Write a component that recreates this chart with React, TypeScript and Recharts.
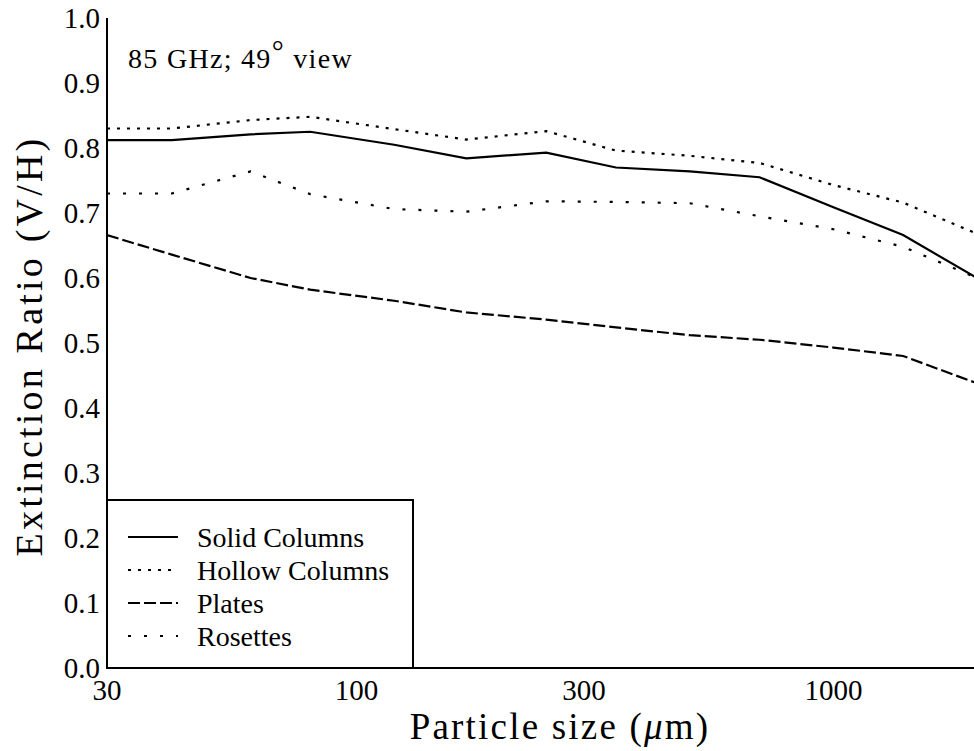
import React from 'react';
import { LineChart, Line, XAxis, YAxis, Legend } from 'recharts';

// particle sizes (µm)
const sizes = [30, 41, 60, 80, 120, 170, 250, 350, 500, 700, 1000, 1400, 2000];
const solidColumns = [0.812, 0.812, 0.821, 0.825, 0.805, 0.784, 0.793, 0.770, 0.764, 0.755, 0.709, 0.666, 0.600];
const hollowColumns = [0.830, 0.830, 0.843, 0.848, 0.829, 0.813, 0.826, 0.796, 0.788, 0.777, 0.743, 0.716, 0.668];
const plates = [0.666, 0.636, 0.600, 0.582, 0.565, 0.547, 0.536, 0.524, 0.512, 0.505, 0.493, 0.480, 0.438];
const rosettes = [0.730, 0.730, 0.764, 0.729, 0.706, 0.702, 0.718, 0.717, 0.715, 0.695, 0.675, 0.648, 0.600];

const xMajorTicks = [30, 100, 300, 1000];
const xMinorTicks = [30, 40, 50, 60, 70, 80, 90, 100, 200, 300, 400, 500, 600, 700, 800, 900, 1000, 2000];
const yTicks = [0, 0.1, 0.2, 0.3, 0.4, 0.5, 0.6, 0.7, 0.8, 0.9, 1.0];
const yMinorTicks = [0, 0.05, 0.1, 0.15, 0.2, 0.25, 0.3, 0.35, 0.4, 0.45, 0.5, 0.55, 0.6, 0.65, 0.7, 0.75, 0.8, 0.85, 0.9, 0.95, 1.0];

const seriesKeys = ['solid', 'hollow', 'plates', 'rosettes'];
const seriesNames = ['Solid Columns', 'Hollow Columns', 'Plates', 'Rosettes'];

const data = sizes.map((s, i) => ({
  size: s,
  solid: solidColumns[i],
  hollow: hollowColumns[i],
  plates: plates[i],
  rosettes: rosettes[i],
}));

const FONT = '"Liberation Serif", "DejaVu Serif", serif';
const INK = '#000';
const DASH: Record<string, string | undefined> = {
  solid: undefined,
  hollow: '3 7',
  plates: '12 4',
  rosettes: '3 13',
};
const textStyle = { fontFamily: FONT };

const renderLegend = () => (
  <svg width={309} height={171} style={{ display: 'block' }}>
    <rect x={1} y={1} width={306} height={168} fill="#fff" stroke={INK} strokeWidth={2} />
    {seriesKeys.map((key, i) => {
      const cy = 38 + i * 33;
      return (
        <g key={key}>
          <line x1={22} x2={72} y1={cy} y2={cy} stroke={INK} strokeWidth={2.2} strokeDasharray={DASH[key]} />
          <text x={91} y={cy} dy="0.36em" fontSize={28} style={textStyle} fill={INK}>
            {seriesNames[i]}
          </text>
        </g>
      );
    })}
  </svg>
);

// Y-axis title plus the in-plot annotation (positioned from the axis viewBox)
const YTitle = (props: any) => {
  const vb = props.viewBox || { x: 0, y: 18, width: 107, height: 650 };
  const cx = vb.x + 42;
  const cy = vb.y + vb.height / 2 + 3;
  const ax = vb.x + vb.width + 21;
  const ay = vb.y + 50;
  return (
    <g>
      <text
        x={cx}
        y={cy}
        transform={`rotate(-90, ${cx}, ${cy})`}
        textAnchor="middle"
        fontSize={38}
        letterSpacing={3.2}
        style={textStyle}
        fill={INK}
      >
        Extinction Ratio (V/H)
      </text>
      <text x={ax} y={ay} fontSize={28} letterSpacing={1.3} style={textStyle} fill={INK}>
        85 GHz; 49<tspan dy={-7} fontSize={30}>°</tspan>
        <tspan dy={7}> view</tspan>
      </text>
    </g>
  );
};

const XTitle = (props: any) => {
  const vb = props.viewBox || { x: 107, y: 668, width: 870, height: 83 };
  return (
    <text
      x={vb.x + 453}
      y={vb.y + 71}
      textAnchor="middle"
      fontSize={37}
      letterSpacing={2.2}
      style={textStyle}
      fill={INK}
    >
      Particle size (<tspan fontStyle="italic">μ</tspan>m)
    </text>
  );
};

const tickText = { fontSize: 29, fill: INK, fontFamily: FONT, style: textStyle };

export default function App() {
  return (
    <div style={{ position: 'absolute', left: 0, top: 0, width: 974, height: 751, overflow: 'hidden', background: '#fff', fontFamily: FONT }}>
      <LineChart width={990} height={751} data={data} margin={{ top: 18, right: 13, bottom: 0, left: 0 }} style={textStyle}>
        <XAxis
          dataKey="size"
          type="number"
          scale="log"
          domain={[30, 2000]}
          allowDataOverflow
          ticks={xMajorTicks}
          interval={0}
          tickFormatter={(v: number) => String(v)}
          tick={tickText}
          tickLine={false}
          tickSize={0}
          tickMargin={11}
          height={83}
          axisLine={{ stroke: INK, strokeWidth: 2 }}
          label={(p: any) => <XTitle {...p} />}
        />
        <XAxis
          xAxisId="top"
          dataKey="size"
          type="number"
          scale="log"
          domain={[30, 2000]}
          allowDataOverflow
          orientation="top"
          mirror
          height={0}
          ticks={xMinorTicks}
          interval={0}
          tick={false}
          tickSize={6}
          tickLine={{ stroke: INK, strokeWidth: 1.5 }}
          axisLine={{ stroke: INK, strokeWidth: 2 }}
        />
        <XAxis
          xAxisId="bottomTicks"
          dataKey="size"
          type="number"
          scale="log"
          domain={[30, 2000]}
          allowDataOverflow
          orientation="bottom"
          mirror
          height={0}
          ticks={xMinorTicks}
          interval={0}
          tick={false}
          tickSize={5}
          tickLine={{ stroke: INK, strokeWidth: 1.5 }}
          axisLine={false}
        />
        <YAxis
          type="number"
          domain={[0, 1]}
          allowDataOverflow
          ticks={yTicks}
          interval={0}
          tickFormatter={(v: number) => v.toFixed(1)}
          tick={tickText}
          tickLine={false}
          tickSize={0}
          tickMargin={7}
          width={107}
          axisLine={{ stroke: INK, strokeWidth: 2 }}
          label={(p: any) => <YTitle {...p} />}
        />
        <YAxis
          yAxisId="leftTicks"
          type="number"
          domain={[0, 1]}
          allowDataOverflow
          orientation="left"
          mirror
          width={0}
          ticks={yMinorTicks}
          interval={0}
          tick={false}
          tickSize={6}
          tickLine={{ stroke: INK, strokeWidth: 1.5 }}
          axisLine={false}
        />
        <YAxis
          yAxisId="right"
          type="number"
          domain={[0, 1]}
          allowDataOverflow
          orientation="right"
          mirror
          width={0}
          ticks={yMinorTicks}
          interval={0}
          tick={false}
          tickSize={6}
          tickLine={{ stroke: INK, strokeWidth: 1.5 }}
          axisLine={{ stroke: INK, strokeWidth: 2 }}
        />
        {seriesKeys.map((k, i) => (
          <Line
            key={k}
            dataKey={k}
            name={seriesNames[i]}
            type="linear"
            stroke={INK}
            strokeWidth={2.2}
            strokeDasharray={DASH[k]}
            dot={false}
            activeDot={false}
            isAnimationActive={false}
          />
        ))}
        <Legend
          layout="vertical"
          align="center"
          verticalAlign="middle"
          content={renderLegend}
          wrapperStyle={{ position: 'absolute', left: 106, top: 499, width: 309, height: 171, margin: 0, padding: 0, lineHeight: 0 }}
        />
      </LineChart>
    </div>
  );
}
